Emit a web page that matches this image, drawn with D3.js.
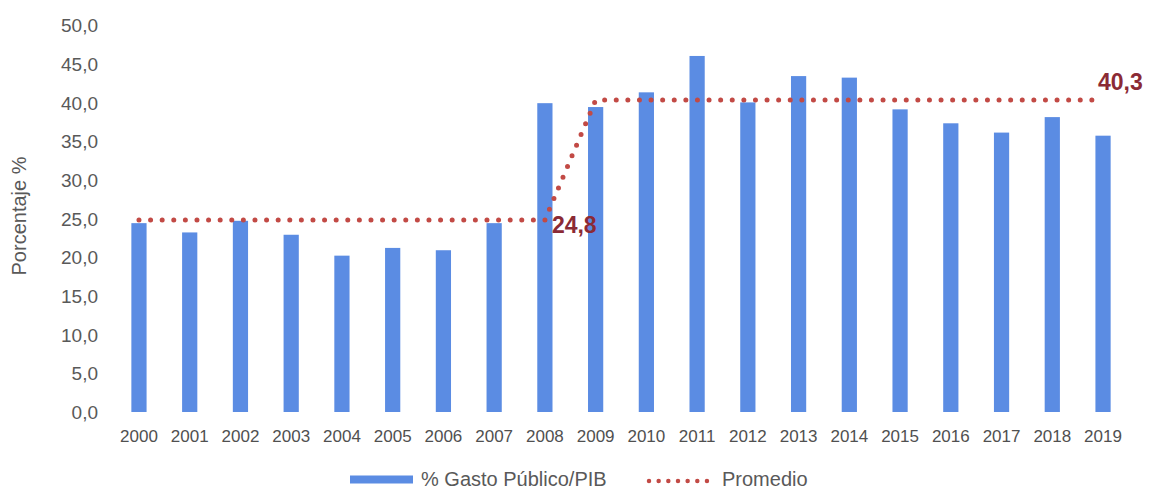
<!DOCTYPE html>
<html><head><meta charset="utf-8">
<script src="https://cdn.jsdelivr.net/npm/d3@7"></script>
<style>body{margin:0;background:#fff;font-family:"Liberation Sans",Arial,sans-serif;}</style>
</head><body><svg id="c" width="1153" height="491"></svg>
<script>
const years = ["2000","2001","2002","2003","2004","2005","2006","2007","2008","2009","2010","2011","2012","2013","2014","2015","2016","2017","2018","2019"];
const gasto = [24.4,23.2,24.7,22.9,20.2,21.2,20.9,24.4,39.9,39.4,41.3,46.0,40.0,43.4,43.2,39.1,37.3,36.1,38.1,35.7];
const promedio = [24.8,24.8,24.8,24.8,24.8,24.8,24.8,24.8,24.8,40.3,40.3,40.3,40.3,40.3,40.3,40.3,40.3,40.3,40.3,40.3];
const yTicks = [0,5,10,15,20,25,30,35,40,45,50];
const labelPoints = [{i:8, v:24.8, t:"24,8", dx:7, dy:13},{i:19, v:40.3, t:"40,3", dx:-5, dy:-10}];

const FONT = "Liberation Sans, Arial, sans-serif";
const svg = d3.select("#c");
const x = d3.scaleBand().domain(years).range([113.6,1128.4]).paddingInner(0.70).paddingOuter(0.35);
const y = d3.scaleLinear().domain([0,50]).range([412,25]);
const blue = "#5b8ce3", red = "#c24a45", dark = "#8b2a35", txt = "#595959";
const fmt = v => d3.format(".1f")(v).replace(".", ",");

const ya = svg.append("g").attr("transform","translate(98,0)")
  .call(d3.axisLeft(y).tickValues(yTicks).tickFormat(fmt).tickSize(0).tickPadding(0));
ya.select(".domain").remove();
ya.selectAll("text").attr("font-size",19).attr("fill",txt).attr("font-family",FONT).attr("dy","0.35em");

const xa = svg.append("g").attr("transform","translate(0,442)")
  .call(d3.axisBottom(x).tickSize(0).tickPadding(0));
xa.select(".domain").remove();
xa.selectAll("text").attr("font-size",17).attr("fill","#505050").attr("font-family",FONT).attr("dy","0");

svg.append("text").attr("transform","translate(26,216) rotate(-90)").attr("text-anchor","middle")
  .attr("font-size",20).attr("fill",txt).attr("font-family",FONT).text("Porcentaje %");

svg.append("g").selectAll("rect").data(gasto).join("rect")
  .attr("x",(d,i)=>x(years[i])).attr("width",x.bandwidth())
  .attr("y",d=>y(d)).attr("height",d=>y(0)-y(d)).attr("fill",blue);

const cx = i => x(years[i]) + x.bandwidth()/2;
const line = d3.line().x((d,i)=>cx(i)).y(d=>y(d));
svg.append("path").datum(promedio).attr("d",line).attr("fill","none")
  .attr("stroke",red).attr("stroke-width",5).attr("stroke-linecap","round").attr("stroke-dasharray","0 11.6");

svg.append("g").selectAll("text").data(labelPoints).join("text")
  .attr("x",d=>cx(d.i)+d.dx).attr("y",d=>y(d.v)+d.dy)
  .attr("font-size",23).attr("font-weight","bold").attr("fill",dark).attr("font-family",FONT).text(d=>d.t);

// legend
const lg = svg.append("g");
lg.append("rect").attr("x",350).attr("y",475.5).attr("width",63).attr("height",8).attr("fill",blue);
lg.append("text").attr("x",421).attr("y",486).attr("font-size",20).attr("fill",txt).attr("font-family",FONT).text("% Gasto Público/PIB");
lg.append("line").attr("x1",649).attr("x2",707).attr("y1",481).attr("y2",481).attr("stroke",red)
  .attr("stroke-width",4.5).attr("stroke-linecap","round").attr("stroke-dasharray","0 9.66");
lg.append("text").attr("x",722).attr("y",486).attr("font-size",20).attr("fill",txt).attr("font-family",FONT).text("Promedio");
</script></body></html>
